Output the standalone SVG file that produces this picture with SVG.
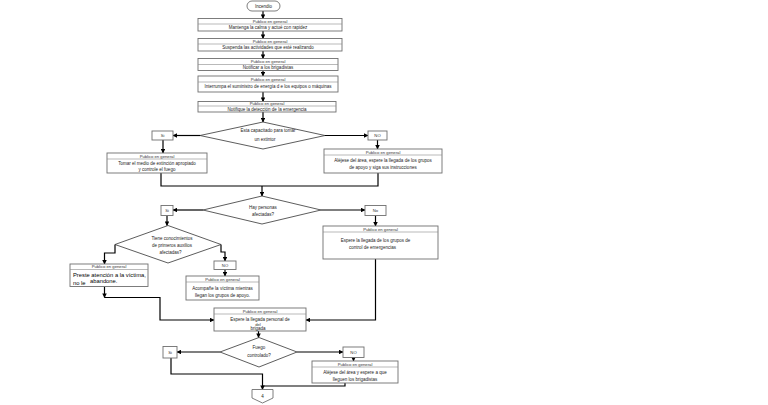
<svg xmlns="http://www.w3.org/2000/svg" width="768" height="405" viewBox="0 0 768 405">
<style>
.bx{fill:#fff;stroke:#6f6f6f;stroke-width:0.9}
.dv{stroke:#8a8a8a;stroke-width:0.6}
.dm{fill:#fff;stroke:#333;stroke-width:0.8}
.t{font-family:"Liberation Sans",Arial,sans-serif;font-size:4.5px;fill:#222;text-anchor:middle}
.h{font-family:"Liberation Sans",Arial,sans-serif;font-size:4.2px;fill:#333;text-anchor:middle}
.b{font-family:"Liberation Sans",Arial,sans-serif;font-size:5.8px;fill:#000}
.ln{fill:none;stroke:#000;stroke-width:1.2}
.ar{fill:none;stroke:#000;stroke-width:1.2;marker-end:url(#a)}
</style>
<defs>
<marker id="a" viewBox="0 0 10 10" refX="9" refY="5" markerWidth="4.5" markerHeight="4.5" markerUnits="userSpaceOnUse" orient="auto">
<path d="M0,0 L10,5 L0,10 Z" fill="#000"/>
</marker>
</defs>
<rect width="768" height="405" fill="#fff"/>

<g id="connectors">
<line class="ar" x1="263" y1="11" x2="263" y2="18.5"/>
<line class="ar" x1="263" y1="31" x2="263" y2="38.5"/>
<line class="ar" x1="263" y1="51" x2="263" y2="58.5"/>
<line class="ar" x1="263" y1="70.5" x2="263" y2="76"/>
<line class="ar" x1="263" y1="92" x2="263" y2="101.5"/>
<line class="ar" x1="263" y1="112" x2="263" y2="122"/>
<line class="ar" x1="200" y1="135.5" x2="173" y2="135.5"/>
<line class="ar" x1="163" y1="140" x2="163" y2="153"/>
<line class="ar" x1="325" y1="135.5" x2="368" y2="135.5"/>
<line class="ar" x1="377.5" y1="140" x2="377.5" y2="149"/>
<polyline class="ln" points="161,173 161,186 378,186 378,173"/>
<line class="ar" x1="262" y1="186" x2="262" y2="196"/>
<line class="ar" x1="203" y1="210" x2="173" y2="210"/>
<line class="ar" x1="167" y1="215.5" x2="167" y2="225.5"/>
<line class="ar" x1="321" y1="210" x2="365" y2="210"/>
<line class="ar" x1="375.5" y1="215.5" x2="375.5" y2="226"/>
<polyline class="ar" points="115,244.5 115,253 104.5,253 104.5,264"/>
<polyline class="ar" points="221,244.5 221,252 225,252 225,261"/>
<line class="ar" x1="225" y1="269.5" x2="225" y2="276"/>
<line class="ar" x1="104.5" y1="286.5" x2="104.5" y2="297.5"/>
<polyline class="ar" points="104.5,297.5 160,297.5 160,320 214,320"/>
<polyline class="ar" points="375.5,259 375.5,320 306,320"/>
<line class="ar" x1="258.5" y1="331" x2="258.5" y2="337.5"/>
<line class="ar" x1="220" y1="352" x2="177" y2="352"/>
<line class="ar" x1="297" y1="352" x2="343" y2="352"/>
<line class="ar" x1="353.5" y1="357.5" x2="353.5" y2="361"/>
<polyline class="ar" points="171,358 171,374 262.5,374 262.5,389.5"/>
<polyline class="ln" points="345,383 345,386 262.5,386"/>
</g>

<g id="incendio">
<rect class="bx" x="247" y="1" width="33" height="10" rx="5"/>
<text class="t" x="263.5" y="7.6">Incendio</text>
</g>

<g id="box1">
<rect class="bx" x="198" y="18.5" width="144" height="12.5"/>
<line class="dv" x1="198" y1="24" x2="342" y2="24"/>
<text class="h" x="270" y="22.8">Publico en general</text>
<text class="t" x="268" y="29.2">Mantenga la calma y actué con rapidez</text>
</g>

<g id="box2">
<rect class="bx" x="198" y="38.5" width="144" height="12.5"/>
<line class="dv" x1="198" y1="44" x2="342" y2="44"/>
<text class="h" x="270" y="42.8">Publico en general</text>
<text class="t" x="268" y="49.2">Suspenda las actividades que esté realizando</text>
</g>

<g id="box3">
<rect class="bx" x="198" y="58.5" width="140" height="12"/>
<line class="dv" x1="198" y1="64.5" x2="338" y2="64.5"/>
<text class="h" x="268" y="63">Publico en general</text>
<text class="t" x="268" y="69.2">Notificar a los brigadistas</text>
</g>

<g id="box4">
<rect class="bx" x="198" y="76" width="140" height="16"/>
<line class="dv" x1="198" y1="82" x2="338" y2="82"/>
<text class="h" x="268" y="80.5">Publico en general</text>
<text class="t" x="268" y="88">Interrumpa el suministro de energía d e los equipos o  máquinas</text>
</g>

<g id="box5">
<rect class="bx" x="198" y="101.5" width="138" height="10.5"/>
<line class="dv" x1="198" y1="106" x2="336" y2="106"/>
<text class="h" x="267" y="105">Publico en general</text>
<text class="t" x="267" y="110.6">Notifique la detección de la emergencia</text>
</g>

<g id="dec1">
<polygon class="dm" points="263,122 325,135.5 263,149 200,135.5"/>
<text class="t" x="268" y="132">Esta capacitado para tomar</text>
<text class="t" x="265" y="141">un extintor</text>
</g>

<g id="si1">
<rect class="bx" x="152" y="131" width="21" height="9"/>
<text class="h" x="162.5" y="137">Si</text>
</g>

<g id="box6">
<rect class="bx" x="107" y="153" width="100" height="20"/>
<line class="dv" x1="107" y1="159" x2="207" y2="159"/>
<text class="h" x="157" y="157.5">Publico en general</text>
<text class="t" x="157" y="164.5">Tomar el medio de extinción apropiado</text>
<text class="t" x="157" y="170.5">y controle el fuego</text>
</g>

<g id="no1">
<rect class="bx" x="368" y="131" width="19" height="9"/>
<text class="h" x="377.5" y="137">NO</text>
</g>

<g id="box7">
<rect class="bx" x="324" y="149" width="118" height="24"/>
<line class="dv" x1="324" y1="155" x2="442" y2="155"/>
<text class="h" x="383" y="153.5">Publico en general</text>
<text class="t" x="383" y="162">Aléjese del  área, espere la llegada de los grupos</text>
<text class="t" x="383" y="168.5">de apoyo y siga sus instrucciones</text>
</g>

<g id="dec2">
<polygon class="dm" points="262,196 321,210 262,224 203,210"/>
<text class="t" x="263" y="208.5">Hay personas</text>
<text class="t" x="263" y="216">afectadas?</text>
</g>

<g id="si2">
<rect class="bx" x="161" y="205.5" width="12" height="10"/>
<text class="h" x="167" y="212">Si</text>
</g>

<g id="no2">
<rect class="bx" x="365" y="205.5" width="21" height="10"/>
<text class="h" x="375.5" y="212">No</text>
</g>

<g id="box8">
<rect class="bx" x="323" y="226" width="115" height="33"/>
<line class="dv" x1="323" y1="232" x2="438" y2="232"/>
<text class="h" x="380.5" y="230.5">Publico en general</text>
<text class="t" x="375.5" y="241.5">Espere la llegada de los grupos de</text>
<text class="t" x="372.5" y="248.5">control de emergencias</text>
</g>

<g id="dec3">
<polygon class="dm" points="168,225.5 221,244.5 168,263 115,244.5"/>
<text class="t" x="172" y="239.5">Tiene conocimientos</text>
<text class="t" x="172" y="246.5">de primeros auxilios</text>
<text class="t" x="170.5" y="254">afectadas?</text>
</g>

<g id="box9">
<rect class="bx" x="70" y="264" width="78" height="22.5"/>
<line class="dv" x1="70" y1="269.5" x2="148" y2="269.5"/>
<text class="h" x="109" y="268.2">Publico en general</text>
<text class="b" x="73" y="277">Preste atención a la víctima,</text>
<text class="b" x="73" y="284.5">no le</text>
<text class="b" x="90" y="283">abandone.</text>
</g>

<g id="no3">
<rect class="bx" x="214" y="261" width="22" height="8.5"/>
<text class="h" x="225" y="266.8">NO</text>
</g>

<g id="box10">
<rect class="bx" x="186" y="276" width="73" height="24"/>
<line class="dv" x1="186" y1="282" x2="259" y2="282"/>
<text class="h" x="222.5" y="280.5">Publico en general</text>
<text class="t" x="222.5" y="290">Acompañe la víctima mientras</text>
<text class="t" x="222.5" y="296.5">llegan los grupos de apoyo.</text>
</g>

<g id="box11">
<rect class="bx" x="214" y="308" width="92" height="23"/>
<line class="dv" x1="214" y1="314" x2="306" y2="314"/>
<text class="h" x="260" y="312.5">Publico en general</text>
<text class="t" x="260" y="321">Espere la llegada  personal de</text>
<text class="h" x="258" y="325.5">del</text>
<text class="t" x="258" y="329.8">brigada</text>
</g>

<g id="dec4">
<polygon class="dm" points="259,337.5 297,352 259,367 220,352"/>
<text class="t" x="259" y="349">Fuego</text>
<text class="t" x="259" y="357">controlado?</text>
</g>

<g id="si4">
<rect class="bx" x="163" y="346.5" width="14" height="11.5"/>
<text class="h" x="170" y="353.8">Si</text>
</g>

<g id="no4">
<rect class="bx" x="343" y="347" width="21" height="10.5"/>
<text class="h" x="353.5" y="353.8">NO</text>
</g>

<g id="box12">
<rect class="bx" x="312" y="361" width="86" height="22"/>
<line class="dv" x1="312" y1="367" x2="398" y2="367"/>
<text class="h" x="355" y="365.5">Publico en general</text>
<text class="t" x="355" y="374">Aléjese del área y espere a que</text>
<text class="t" x="355" y="380.5">lleguen los brigadistas</text>
</g>

<g id="conn4">
<path class="bx" d="M252,389.5 H273 V398 L262.5,403 L252,398 Z"/>
<text class="t" x="262.5" y="398">4</text>
</g>
</svg>
